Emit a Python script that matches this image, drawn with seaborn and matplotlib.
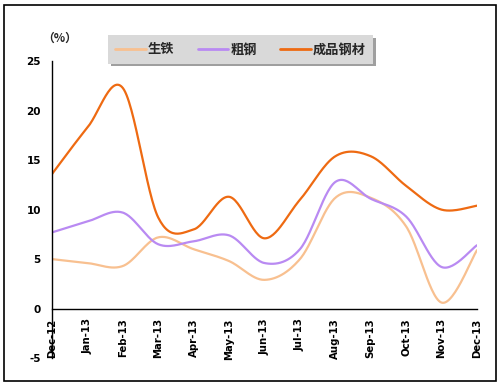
import numpy as np
import pandas as pd
import matplotlib
matplotlib.use("Agg")
import matplotlib.pyplot as plt
import seaborn as sns
from matplotlib.patches import Rectangle

months = ['Dec-12', 'Jan-13', 'Feb-13', 'Mar-13', 'Apr-13', 'May-13', 'Jun-13',
          'Jul-13', 'Aug-13', 'Sep-13', 'Oct-13', 'Nov-13', 'Dec-13']
pig_iron = [5.0, 4.6, 4.3, 7.2, 6.0, 4.8, 2.9, 5.0, 11.2, 11.2, 8.3, 0.6, 5.9]
crude_steel = [7.7, 8.8, 9.7, 6.5, 6.8, 7.4, 4.6, 6.0, 12.8, 11.1, 9.3, 4.2, 6.4]
steel_products = [13.6, 18.3, 22.3, 9.2, 8.0, 11.3, 7.1, 11.0, 15.4, 15.4, 12.4, 10.0, 10.4]

series_names = ['生铁', '粗钢', '成品钢材']
colors = ['#F8C090', '#B98AF2', '#EE6A12']


def smooth(xs, ys, n=30):
    # excel style smoothed line (catmull-rom as cubic bezier)
    p = np.column_stack([xs, ys]).astype(float)
    p = np.vstack([p[0], p, p[-1]])
    out = []
    t = np.linspace(0, 1, n)[:, None]
    for i in range(1, len(p) - 2):
        p0, p1, p2, p3 = p[i - 1], p[i], p[i + 1], p[i + 2]
        c1 = p1 + (p2 - p0) / 6
        c2 = p2 - (p3 - p1) / 6
        seg = ((1 - t) ** 3) * p1 + 3 * ((1 - t) ** 2) * t * c1 + 3 * (1 - t) * t ** 2 * c2 + t ** 3 * p2
        out.append(seg if i == 1 else seg[1:])
    out = np.vstack(out)
    return out[:, 0], out[:, 1]


sns.set_style("white")
plt.rcParams['font.family'] = ['DejaVu Sans', 'Noto Sans CJK SC']

fig = plt.figure(figsize=(5.03, 3.89), dpi=100)
ax = fig.add_axes([52 / 503, 1 - 358 / 389, 425 / 503, 296.7 / 389])

x = np.arange(len(months))
for name, vals, c in zip(series_names, [pig_iron, crude_steel, steel_products], colors):
    sx, sy = smooth(x, vals)
    df = pd.DataFrame({'x': sx, 'y': sy})
    sns.lineplot(data=df, x='x', y='y', ax=ax, color=c, lw=1.6, sort=False,
                 estimator=None, label=name, legend=False)

ax.set_xlim(0, 12)
ax.set_ylim(-5, 25)
ax.set_xticks(x)
ax.set_xticklabels(months)
ax.set_yticks(range(-5, 26, 5))
ax.set_yticklabels([str(v) for v in range(-5, 26, 5)], fontsize=7.5, fontweight='bold')
ax.set_xlabel('')
ax.set_ylabel('')
for s in ['top', 'right']:
    ax.spines[s].set_visible(False)
ax.spines['bottom'].set_position(('data', 0))
ax.spines['left'].set_color('black')
ax.spines['bottom'].set_color('black')
ax.spines['left'].set_linewidth(1)
ax.spines['bottom'].set_linewidth(1)
ax.tick_params(axis='y', direction='in', length=3, width=1, pad=8, colors='black')
ax.tick_params(axis='x', direction='in', length=3, width=1, pad=7, colors='black',
               labelrotation=90, labelsize=7.3)
for lbl in ax.get_xticklabels():
    lbl.set_fontweight('bold')
    lbl.set_fontsize(7.3)
    lbl.set_ha('center')
    lbl.set_va('top')
ax.grid(False)

fig.text(42 / 503, 1 - 38 / 389, '（%）', fontsize=8.5, fontweight='bold',
         family=['Noto Sans CJK SC'], va='center', ha='left')

leg = fig.legend(*ax.get_legend_handles_labels(), loc='upper left',
                 bbox_to_anchor=(108 / 503, 1 - 35 / 389), ncol=3, frameon=True,
                 fancybox=False, shadow=True, handlelength=2.3, handletextpad=0.15,
                 columnspacing=1.8, borderpad=0.55, borderaxespad=0,
                 prop={'family': ['Noto Sans CJK SC'], 'weight': 'bold', 'size': 9.5})
leg.get_frame().set_facecolor('#D9D9D9')
leg.get_frame().set_edgecolor('#D9D9D9')
leg.get_frame().set_linewidth(0)
for h in leg.get_lines():
    h.set_linewidth(2)

fig.patches.append(Rectangle((4 / 503, 1 - 381 / 389), 492 / 503, 376 / 389,
                             transform=fig.transFigure, fill=False, ec='black', lw=1.2))

fig.savefig('out.png', dpi=100)
